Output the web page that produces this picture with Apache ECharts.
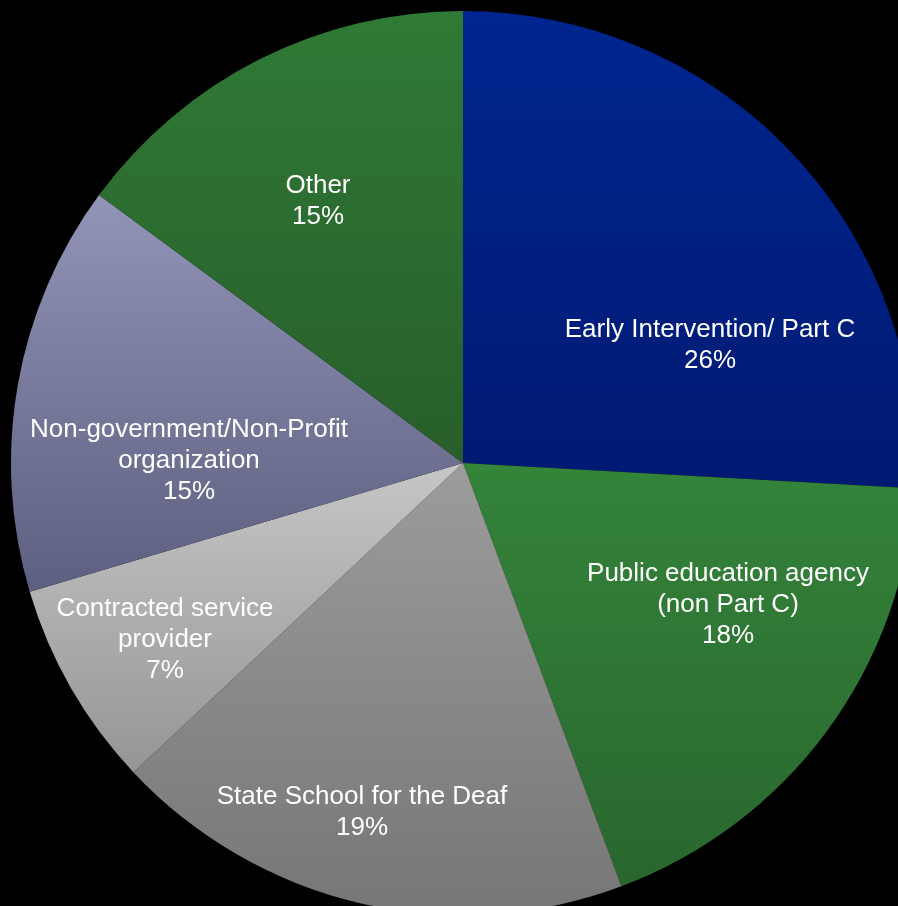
<!DOCTYPE html>
<html><head><meta charset="utf-8">
<script src="https://cdn.jsdelivr.net/npm/echarts@6/dist/echarts.min.js"></script>
<style>html,body{margin:0;padding:0;background:#000;}#c{width:898px;height:906px;}</style>
</head><body><div id="c"></div>
<script>
const categories = ["Early Intervention/ Part C", "Public education agency\n(non Part C)", "State School for the Deaf", "Contracted service\nprovider", "Non-government/Non-Profit\norganization", "Other"];
const values = [25.9, 18.4, 18.7, 7.4, 14.7, 14.9];
const gradTop = ['#00258f', '#34843a', '#9c9c9c', '#c6c6c6', '#9294b8', '#2f7a35'];
const gradBottom = ['#001a72', '#29662e', '#767676', '#959595', '#5d5f80', '#285e2b'];
const labelPos = [[710, 345], [728, 605], [362, 812], [165, 640], [189, 461], [318, 201]];

const chart = echarts.init(document.getElementById('c'), null, {renderer: 'canvas'});
chart.setOption({
  backgroundColor: '#000',
  animation: false,
  series: [{
    type: 'pie',
    center: [463, 463],
    radius: 452,
    startAngle: 90,
    clockwise: true,
    avoidLabelOverlap: false,
    itemStyle: {borderWidth: 0},
    emphasis: {disabled: true},
    label: {
      show: true,
      position: 'inside',
      color: '#fff',
      fontFamily: 'Liberation Sans, Arial, sans-serif',
      fontSize: 26,
      lineHeight: 31,
      align: 'center',
      formatter: p => p.name + '\n' + Math.round(p.value) + '%'
    },
    labelLine: {show: false},
    labelLayout: p => ({x: labelPos[p.dataIndex][0], y: labelPos[p.dataIndex][1], align: 'center', verticalAlign: 'middle'}),
    data: categories.map((c, i) => ({
      name: c,
      value: values[i],
      itemStyle: {color: new echarts.graphic.LinearGradient(0, 0, 0, 1, [{offset: 0, color: gradTop[i]}, {offset: 1, color: gradBottom[i]}])}
    }))
  }]
});
</script></body></html>
